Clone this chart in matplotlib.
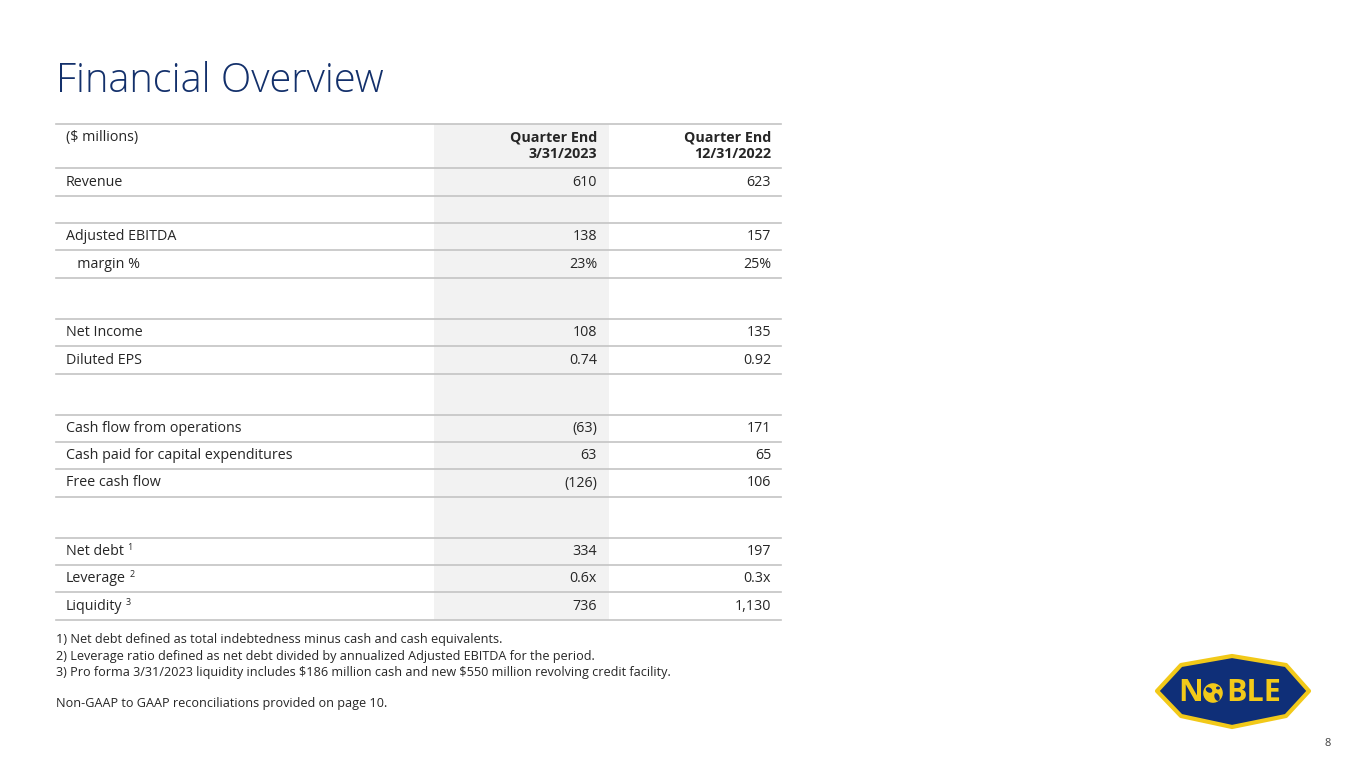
import matplotlib.pyplot as plt
from matplotlib.patches import Polygon, Rectangle, Circle, Ellipse

plt.rcParams['font.family'] = ['Open Sans', 'DejaVu Sans']

# table data
col_headers = ["Quarter End\n3/31/2023", "Quarter End\n12/31/2022"]
row_labels = ["Revenue", "", "Adjusted EBITDA", "   margin %", "",
              "Net Income", "Diluted EPS", "",
              "Cash flow from operations", "Cash paid for capital expenditures",
              "Free cash flow", "", "Net debt", "Leverage", "Liquidity"]
row_notes = ["", "", "", "", "", "", "", "", "", "", "", "", "1", "2", "3"]
q1_2023 = ["610", "", "138", "23%", "", "108", "0.74", "",
           "(63)", "63", "(126)", "", "334", "0.6x", "736"]
q4_2022 = ["623", "", "157", "25%", "", "135", "0.92", "",
           "171", "65", "106", "", "197", "0.3x", "1,130"]
footnotes = [
    "1) Net debt defined as total indebtedness minus cash and cash equivalents.",
    "2) Leverage ratio defined as net debt divided by annualized Adjusted EBITDA for the period.",
    "3) Pro forma 3/31/2023 liquidity includes \\$186 million cash and new \\$550 million revolving credit facility.",
]
reconcile_note = "Non-GAAP to GAAP reconciliations provided on page 10."

# layout (pixels)
row_h = [28, 27, 27, 28, 41, 27, 28, 41, 27, 27, 28, 41, 27, 27, 28]
navy = "#13306b"
line_c = "#c4c4c4"
txt_c = "#262626"
fs = 10.25

fig = plt.figure(figsize=(13.65, 7.68), dpi=100)
ax = fig.add_axes([0, 0, 1, 1])
ax.set_xlim(0, 1365)
ax.set_ylim(768, 0)
ax.axis("off")

ax.text(56, 81, "Financial Overview", fontsize=28.6, color=navy,
        fontweight="light", va="center", ha="left")

x0, x1 = 56, 781
shade_l, shade_r = 434, 609
top = 124
bottom = top + 44 + sum(row_h)

ax.add_patch(Rectangle((shade_l, top), shade_r - shade_l, bottom - top,
                       facecolor="#f2f2f2", edgecolor="none", zorder=0))

# header
ax.plot([x0, x1], [top, top], color=line_c, lw=1.2)
ax.text(66, 130, "(\\$ millions)", fontsize=fs, color=txt_c, va="top")
ax.text(597, 130, col_headers[0], fontsize=fs, color=txt_c, va="top",
        ha="right", fontweight="bold", linespacing=1.3)
ax.text(771, 130, col_headers[1], fontsize=fs, color=txt_c, va="top",
        ha="right", fontweight="bold", linespacing=1.3)

y = top + 44
ax.plot([x0, x1], [y, y], color=line_c, lw=1.2)
for lab, note, a, b, h in zip(row_labels, row_notes, q1_2023, q4_2022, row_h):
    yc = y + h / 2
    if lab:
        t = ax.text(66, yc, lab, fontsize=fs, color=txt_c, va="center")
        if note:
            ax.annotate(note, xy=(1, 1), xycoords=t, xytext=(2.5, 0.5),
                        textcoords="offset points", fontsize=6.5,
                        color=txt_c, va="top", ha="left")
        ax.text(597, yc, a, fontsize=fs, color=txt_c, va="center", ha="right")
        ax.text(771, yc, b, fontsize=fs, color=txt_c, va="center", ha="right")
    y += h
    ax.plot([x0, x1], [y, y], color=line_c, lw=1.2)

for i, fn in enumerate(footnotes):
    ax.text(56, 640 + i * 16.3, fn, fontsize=9.1, color=txt_c, va="center")
ax.text(56, 703, reconcile_note, fontsize=9.1, color=txt_c, va="center")

# logo
logo_blue = "#0f2f78"
logo_gold = "#f2c919"
shape = [(1157, 691), (1181, 665), (1232, 656), (1286, 665), (1309, 691),
         (1286, 716), (1232, 727), (1181, 716)]
ax.add_patch(Polygon(shape, closed=True, facecolor=logo_blue,
                     edgecolor=logo_gold, lw=3, joinstyle="round", zorder=3))
logo_y = 693
ax.text(1191, logo_y, "N", fontsize=22, fontweight="bold", color=logo_gold,
        ha="center", va="center", zorder=4)
ax.add_patch(Circle((1213, logo_y), 10.5, facecolor=logo_gold,
                    edgecolor="none", zorder=4))
ax.add_patch(Ellipse((1209, logo_y - 3), 7, 5, angle=30,
                     facecolor=logo_blue, edgecolor="none", zorder=5))
ax.add_patch(Ellipse((1217, logo_y + 4), 5, 8, angle=-20,
                     facecolor=logo_blue, edgecolor="none", zorder=5))
ax.add_patch(Ellipse((1218, logo_y - 5), 4, 3,
                     facecolor=logo_blue, edgecolor="none", zorder=5))
ax.add_patch(Circle((1213, logo_y), 10.5, facecolor="none",
                    edgecolor=logo_blue, lw=1.0, zorder=6))
ax.text(1254, logo_y, "BLE", fontsize=22, fontweight="bold", color=logo_gold,
        ha="center", va="center", zorder=4)

ax.text(1328, 743, "8", fontsize=8, color="#404040", ha="center", va="center")

fig.savefig("out.png", dpi=100)
